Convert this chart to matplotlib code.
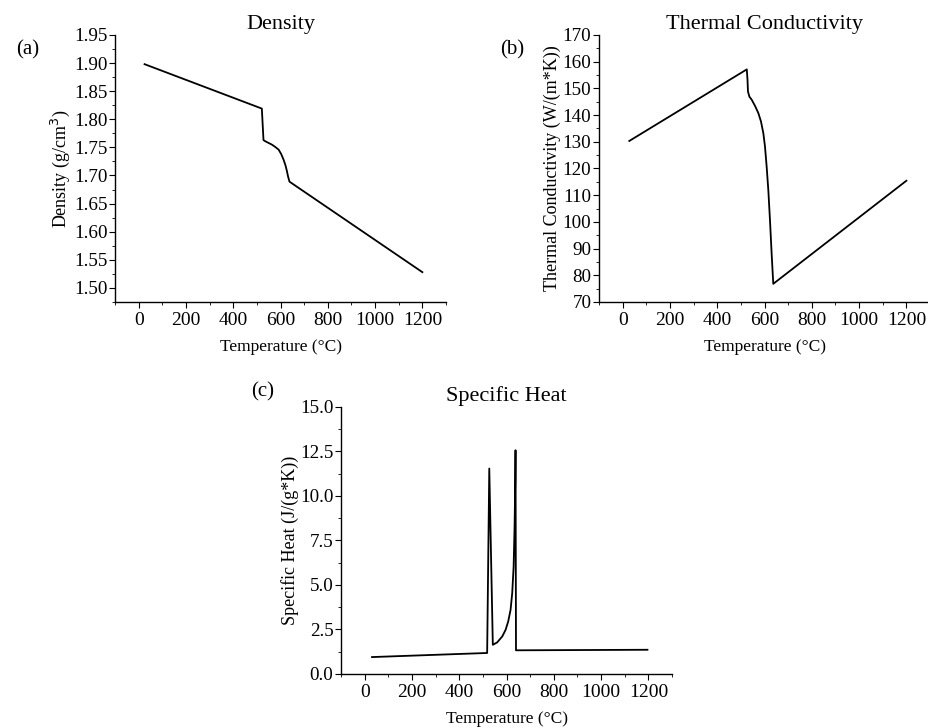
import numpy as np
import matplotlib
matplotlib.use("Agg")
import matplotlib.pyplot as plt
from matplotlib.ticker import MultipleLocator, FormatStrFormatter

# density (g/cm3) vs temperature (C)
dens_T = [25, 521, 528, 535, 549, 563, 577, 592, 603, 613, 621, 627, 632, 638, 1200]
dens_v = [1.898, 1.819, 1.763, 1.761, 1.758, 1.755, 1.751, 1.746, 1.738, 1.728,
          1.718, 1.708, 1.698, 1.689, 1.528]

# thermal conductivity W/(m*K)
cond_T = [28, 525, 528, 530, 536, 546, 560, 574, 585, 595, 602, 609, 616, 623, 630, 637, 1200]
cond_v = [130.3, 157.1, 153.2, 148.8, 146.9, 145.7, 143.4, 140.7, 137.6, 133.2,
          128.2, 120.7, 112.0, 100.8, 88.3, 76.8, 115.4]

# specific heat J/(g*K)
cp_T = [31, 518, 527, 542, 560, 582, 596, 607, 617, 624, 630, 634, 637, 638, 640, 1196]
cp_v = [0.95, 1.18, 11.54, 1.64, 1.77, 2.11, 2.48, 2.95, 3.60, 4.54, 6.03, 8.28,
        10.9, 12.57, 1.33, 1.36]

plt.rcParams.update({"font.family": ["Liberation Serif", "DejaVu Serif"],
                     "xtick.direction": "out", "ytick.direction": "out",
                     "xtick.major.size": 4, "ytick.major.size": 4,
                     "xtick.minor.size": 2.2, "ytick.minor.size": 2.2,
                     "xtick.labelsize": 14, "ytick.labelsize": 13.7,
                     "ytick.major.pad": 1.5, "axes.linewidth": 1.0})

fig = plt.figure(figsize=(9.29, 7.28), dpi=100)
W, H = 0.3563, 0.3668
panels = [
    ([0.1238, 0.5852, W, H], dens_T, dens_v, "Density", r"Density (g/cm$^3$)",
     (1.475, 1.95), 0.05, 0.025, "%.2f", "(a)", (0.030, 0.931)),
    ([0.6448, 0.5852, W, H], cond_T, cond_v, "Thermal Conductivity", "Thermal Conductivity (W/(m*K))",
     (70, 170), 10, 5, "%d", "(b)", (0.551, 0.931)),
    ([0.3671, 0.0742, W, H], cp_T, cp_v, "Specific Heat", "Specific Heat (J/(g*K))",
     (0, 15), 2.5, 1.25, "%.1f", "(c)", (0.283, 0.462)),
]

for rect, x, y, title, ylab, ylim, maj, mnr, fmt, tag, tpos in panels:
    ax = fig.add_axes(rect)
    ax.plot(x, y, color="black", lw=1.3)
    ax.set_xlim(-100, 1300)
    ax.set_ylim(*ylim)
    ax.xaxis.set_major_locator(MultipleLocator(200))
    ax.xaxis.set_minor_locator(MultipleLocator(100))
    ax.yaxis.set_major_locator(MultipleLocator(maj))
    ax.yaxis.set_minor_locator(MultipleLocator(mnr))
    ax.yaxis.set_major_formatter(FormatStrFormatter(fmt))
    ax.spines["top"].set_visible(False)
    ax.spines["right"].set_visible(False)
    ax.set_title(title, fontsize=16, pad=4)
    ax.set_xlabel("Temperature (°C)", fontsize=12.5, labelpad=7)
    ax.set_ylabel(ylab, fontsize=13, labelpad=1)
    fig.text(tpos[0], tpos[1], tag, fontsize=15, ha="center", va="center")

fig.savefig("out.png", dpi=100)
